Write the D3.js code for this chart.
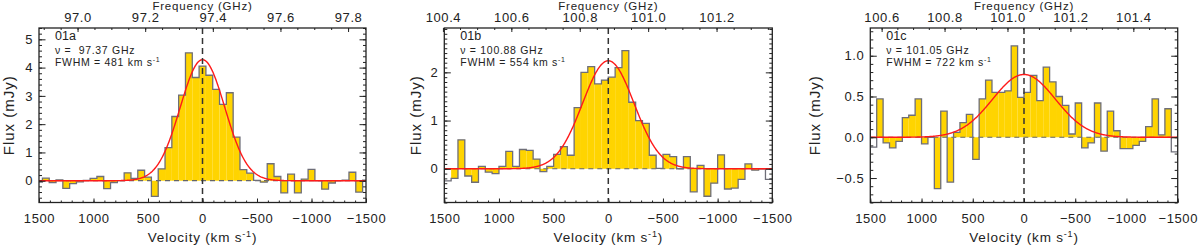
<!DOCTYPE html>
<html>
<head>
<meta charset="utf-8">
<script src="https://cdn.jsdelivr.net/npm/d3@7"></script>
<style>
  body { margin: 0; background: #fff; }
  svg text { font-family: "Liberation Sans", Arial, sans-serif; fill: #222; }
</style>
</head>
<body>
<svg id="chart" width="1200" height="246"></svg>
<script>
// ── Data ──────────────────────────────────────────────────────────────────
const labels = ['01a', '01b', '01c'];
const lineFreq = [97.37, 100.88, 101.05];   // GHz
const fwhm = [481, 554, 722];                // km/s
const peakFlux = [4.28, 2.24, 0.77];         // mJy, gaussian amplitude
const freqRange = [[96.886, 97.853], [100.404, 101.363], [100.564, 101.541]];
const fluxRange = [[-0.77, 5.4], [-0.70, 2.92], [-0.80, 1.34]];
const binWidth = 62.5;
const firstBin = [1500, 1468.75, 1468.75];   // velocity of the leftmost channel

const flux01a = [-0.05, 0.09, -0.07, 0.03, -0.27, -0.1, -0.04, 0.01, 0.08, 0.15,
  -0.28, -0.07, 0.0, 0.28, 0.08, 0.37, 0.13, -0.55, 0.42, 1.17,
  2.27, 3.03, 4.52, 3.65, 4.05, 3.73, 3.23, 2.7, 3.11, 1.54,
  0.39, 0.27, 0.01, -0.05, 0.6, 0.15, -0.43, 0.23, -0.43, 0.06,
  0.4, 0.0, -0.3, -0.08, 0.0, 0.02, 0.3, -0.4, 0.02];
const flux01b = [-0.25, -0.2, 0.6, -0.15, -0.28, 0.05, -0.07, -0.1, 0.05, 0.36,
  0.05, 0.4, 0.38, 0.2, -0.06, 0.05, 0.3, 0.46, 0.28, 1.27,
  2.0, 2.12, 1.76, 1.84, 1.9, 2.1, 2.45, 1.38, 1.0, 0.94,
  0.28, 0.01, 0.3, 0.25, 0.0, 0.25, -0.48, 0.07, -0.57, -0.3,
  0.29, -0.42, -0.4, -0.22, 0.1, -0.03, 0.0, -0.22];
const flux01c = [-0.12, 0.47, -0.07, -0.13, -0.05, 0.24, 0.27, 0.47, -0.08, 0.0,
  -0.63, 0.32, -0.55, 0.06, 0.18, 0.28, -0.27, 0.47, 0.7, 0.55,
  0.55, 0.57, 1.12, 0.49, 0.55, 0.76, 0.45, 0.86, 0.68, 0.5,
  0.39, 0.04, 0.42, -0.13, -0.07, 0.42, -0.17, 0.32, 0.08, -0.14,
  -0.14, -0.1, -0.05, 0.13, 0.47, 0.03, 0.35, -0.18];
const fluxes = [flux01a, flux01b, flux01c];

const velTicks = [1500, 1000, 500, 0, -500, -1000, -1500];
const freqTicks = [[97.0, 97.2, 97.4, 97.6, 97.8], [100.4, 100.6, 100.8, 101.0, 101.2], [100.6, 100.8, 101.0, 101.2, 101.4]];
const fluxTicks = [[0, 1, 2, 3, 4, 5], [0, 1, 2], [-0.5, 0.0, 0.5, 1.0]];
const fluxMinor = [0.2, 0.1, 0.1];

// ── Layout ────────────────────────────────────────────────────────────────
const frames = [
  { x0: 39, x1: 366, ylab: 9 },
  { x0: 444.3, x1: 772.3, ylab: 416 },
  { x0: 870.3, x1: 1177.7, ylab: 815 }
];
const yTop = 28, yBot = 202.5;
const svg = d3.select('#chart');

function styleAxis(sel) {
  sel.select('.domain').remove();
  sel.selectAll('.tick line').attr('stroke', '#222').attr('stroke-width', 1);
  sel.selectAll('text').attr('font-size', 13).attr('letter-spacing', 0.6)
    .attr('font-family', '"Liberation Sans", Arial, sans-serif').attr('fill', '#222');
}
function minorRange(lo, hi, step) {
  const a = Math.min(lo, hi), b = Math.max(lo, hi);
  return d3.range(Math.ceil(a / step - 1e-9), Math.floor(b / step + 1e-9) + 1).map(k => +(k * step).toFixed(4));
}

frames.forEach((f, i) => {
  const x = d3.scaleLinear().domain([1500, -1500]).range([f.x0, f.x1]);
  const xf = d3.scaleLinear().domain(freqRange[i]).range([f.x0, f.x1]);
  const y = d3.scaleLinear().domain(fluxRange[i]).range([yBot, yTop]);
  const g = svg.append('g');

  const clipId = 'clip' + i;
  svg.append('clipPath').attr('id', clipId).append('rect')
    .attr('x', f.x0).attr('y', yTop).attr('width', f.x1 - f.x0).attr('height', yBot - yTop);
  const plot = g.append('g').attr('clip-path', `url(#${clipId})`);

  const bins = fluxes[i].map((v, j) => ({ c: firstBin[i] - j * binWidth, v }));

  // filled channels (end channels are drawn as outline only)
  plot.selectAll('rect.bin').data(bins.slice(1, -1)).join('rect')
    .attr('class', 'bin')
    .attr('x', d => x(d.c + binWidth / 2))
    .attr('width', d => x(d.c - binWidth / 2) - x(d.c + binWidth / 2))
    .attr('y', d => y(Math.max(0, d.v)))
    .attr('height', d => Math.abs(y(d.v) - y(0)))
    .attr('fill', '#ffd400');

  // zero level
  plot.append('line')
    .attr('x1', f.x0).attr('x2', f.x1).attr('y1', y(0)).attr('y2', y(0))
    .attr('stroke', '#666').attr('stroke-width', 1.2).attr('stroke-dasharray', '5,4');

  // histogram outline
  const steps = bins.map(d => [d.c + binWidth / 2, d.v]);
  const last = bins[bins.length - 1];
  steps.push([last.c - binWidth / 2, last.v]);
  plot.append('path')
    .attr('d', d3.line().x(d => x(d[0])).y(d => y(d[1])).curve(d3.curveStepAfter)(steps))
    .attr('fill', 'none').attr('stroke', '#6e6e78').attr('stroke-width', 1.3);

  // gaussian fit
  const sigma = fwhm[i] / (2 * Math.sqrt(2 * Math.LN2));
  const vgrid = d3.range(-1500, 1500.1, 5);
  plot.append('path').datum(vgrid)
    .attr('d', d3.line().x(v => x(v)).y(v => y(peakFlux[i] * Math.exp(-v * v / (2 * sigma * sigma)))))
    .attr('fill', 'none').attr('stroke', '#ff1a1a').attr('stroke-width', 1.4);

  // line centre
  g.append('line')
    .attr('x1', x(0)).attr('x2', x(0)).attr('y1', yTop).attr('y2', yBot)
    .attr('stroke', '#333').attr('stroke-width', 1.5).attr('stroke-dasharray', '6,4');

  // axes
  g.append('g').attr('transform', `translate(0,${yBot})`)
    .call(d3.axisBottom(x).tickValues(velTicks).tickSizeInner(-4).tickSizeOuter(0).tickPadding(11.5).tickFormat(d3.format('d')))
    .call(styleAxis);
  g.append('g').attr('transform', `translate(0,${yBot})`)
    .call(d3.axisBottom(x).tickValues(d3.range(-1500, 1501, 100)).tickSizeInner(-2).tickSizeOuter(0).tickFormat(''))
    .call(styleAxis);
  g.append('g').attr('transform', `translate(0,${yTop})`)
    .call(d3.axisTop(xf).tickValues(freqTicks[i]).tickSizeInner(-4).tickSizeOuter(0).tickPadding(5.8).tickFormat(d3.format('.1f')))
    .call(styleAxis);
  g.append('g').attr('transform', `translate(0,${yTop})`)
    .call(d3.axisTop(xf).tickValues(minorRange(freqRange[i][0], freqRange[i][1], 0.05)).tickSizeInner(-2).tickSizeOuter(0).tickFormat(''))
    .call(styleAxis);
  const yfmt = i === 2 ? d3.format('.1f') : d3.format('d');
  g.append('g').attr('transform', `translate(${f.x0},0)`)
    .call(d3.axisLeft(y).tickValues(fluxTicks[i]).tickSizeInner(-6.5).tickSizeOuter(0).tickPadding(6).tickFormat(yfmt))
    .call(styleAxis);
  g.append('g').attr('transform', `translate(${f.x0},0)`)
    .call(d3.axisLeft(y).tickValues(minorRange(fluxRange[i][0], fluxRange[i][1], fluxMinor[i])).tickSizeInner(-3).tickSizeOuter(0).tickFormat(''))
    .call(styleAxis);
  g.append('g').attr('transform', `translate(${f.x1},0)`)
    .call(d3.axisRight(y).tickValues(fluxTicks[i]).tickSizeInner(-6.5).tickSizeOuter(0).tickFormat(''))
    .call(styleAxis);
  g.append('g').attr('transform', `translate(${f.x1},0)`)
    .call(d3.axisRight(y).tickValues(minorRange(fluxRange[i][0], fluxRange[i][1], fluxMinor[i])).tickSizeInner(-3).tickSizeOuter(0).tickFormat(''))
    .call(styleAxis);

  // frame
  g.append('rect')
    .attr('x', f.x0).attr('y', yTop).attr('width', f.x1 - f.x0).attr('height', yBot - yTop)
    .attr('fill', 'none').attr('stroke', '#222').attr('stroke-width', 1.3);

  // titles
  const cx = (f.x0 + f.x1) / 2;
  g.append('text').attr('x', cx).attr('y', 9.8).attr('text-anchor', 'middle')
    .attr('font-size', 11.5).attr('letter-spacing', 0.8).text('Frequency (GHz)');
  const vt = g.append('text').attr('x', cx).attr('y', 242).attr('text-anchor', 'middle')
    .attr('font-size', 13.5).attr('letter-spacing', 0.8);
  vt.append('tspan').text('Velocity (km s');
  vt.append('tspan').attr('dy', -5).attr('font-size', 9).text('-1');
  vt.append('tspan').attr('dy', 5).text(')');
  g.append('text')
    .attr('transform', `translate(${f.ylab},${(yTop + yBot) / 2}) rotate(-90)`)
    .attr('text-anchor', 'middle').attr('dy', '0.35em')
    .attr('font-size', 15).attr('letter-spacing', 1).text('Flux (mJy)');

  // annotations
  g.append('text').attr('x', f.x0 + 16).attr('y', 40).attr('font-size', 12.5).text(labels[i]);
  g.append('text').attr('x', f.x0 + 16).attr('y', 53.5).attr('font-size', 10.5)
    .attr('letter-spacing', 0.7).style('white-space', 'pre')
    .text(`ν = ${lineFreq[i].toFixed(2).padStart(6)} GHz`);
  const fw = g.append('text').attr('x', f.x0 + 16).attr('y', 65.5).attr('font-size', 10.5)
    .attr('letter-spacing', 0.7);
  fw.append('tspan').text(`FWHM = ${fwhm[i]} km s`);
  fw.append('tspan').attr('dy', -4).attr('font-size', 7).text('-1');
});
</script>
</body>
</html>
